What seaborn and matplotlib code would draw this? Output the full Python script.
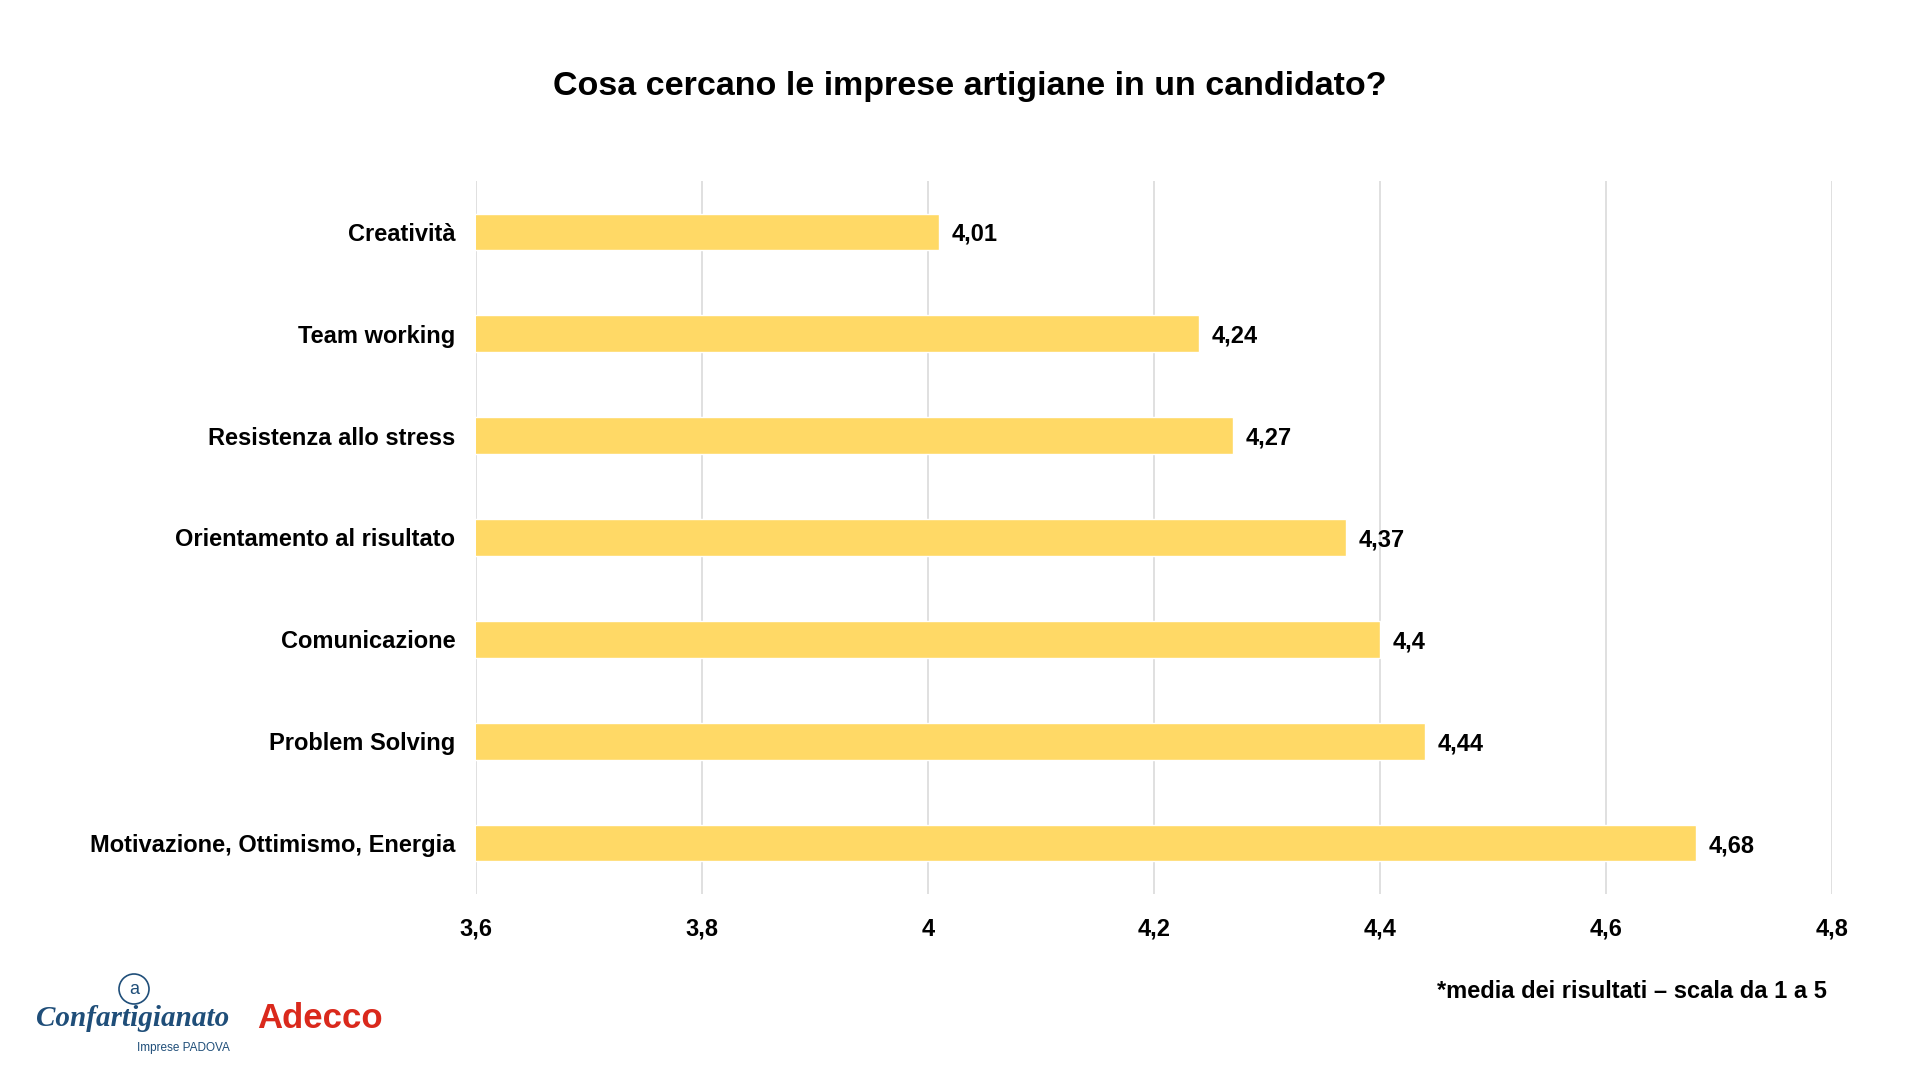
import matplotlib
matplotlib.use("Agg")
import matplotlib.pyplot as plt
import seaborn as sns
import pandas as pd
from matplotlib.patches import Ellipse

# data
categories = [
    "Creatività",
    "Team working",
    "Resistenza allo stress",
    "Orientamento al risultato",
    "Comunicazione",
    "Problem Solving",
    "Motivazione, Ottimismo, Energia",
]
scores = [4.01, 4.24, 4.27, 4.37, 4.40, 4.44, 4.68]
x_ticks = [3.6, 3.8, 4.0, 4.2, 4.4, 4.6, 4.8]

BAR_COLOR = "#FFD966"
GRID_COLOR = "#DDDDDD"
FS = 17


def it_num(v):
    return f"{v:g}".replace(".", ",")


df = pd.DataFrame({"categoria": categories, "media": scores})

sns.set_theme(style="white")
plt.rcParams["font.family"] = ["Liberation Sans", "DejaVu Sans"]
plt.rcParams["text.color"] = "black"
plt.rcParams["xtick.color"] = "black"
plt.rcParams["ytick.color"] = "black"

fig = plt.figure(figsize=(19.2, 10.8), dpi=100)
ax = fig.add_axes([476 / 1920, 1 - 894 / 1080, (1832 - 476) / 1920, (894 - 181) / 1080])

sns.barplot(data=df, x="media", y="categoria", color=BAR_COLOR, width=0.36,
            saturation=1, ax=ax, zorder=3)

ax.set_xlim(3.6, 4.8)
ax.set_ylim(6.5, -0.5)
ax.set_xticks(x_ticks)
ax.set_xticklabels([it_num(t) for t in x_ticks], fontsize=FS, fontweight="bold")
ax.tick_params(axis="y", labelsize=FS, length=0, pad=15)
ax.tick_params(axis="x", length=0, pad=17)
for lab in ax.get_yticklabels():
    lab.set_fontweight("bold")
ax.set_xlabel("")
ax.set_ylabel("")
ax.xaxis.grid(True, color=GRID_COLOR, linewidth=1.3, zorder=0)
for s in ax.spines.values():
    s.set_visible(False)

for i, v in enumerate(scores):
    ax.text(v + 0.011, i, it_num(v), va="center_baseline", ha="left",
            fontsize=FS, fontweight="bold", color="black")

fig.text(970 / 1920, 1 - 87 / 1080, "Cosa cercano le imprese artigiane in un candidato?",
         ha="center", va="center", fontsize=24.5, fontweight="bold")

fig.text(1827 / 1920, 1 - 992 / 1080, "*media dei risultati – scala da 1 a 5",
         ha="right", va="center", fontsize=FS, fontweight="bold")

# logos as text
fig.text(133 / 1920, 1 - 1018 / 1080, "Confartigianato", ha="center", va="center",
         fontsize=21, fontstyle="italic", fontweight="bold",
         family=["Liberation Serif", "DejaVu Serif"], color="#1F4E79")
fig.text(230 / 1920, 1 - 1048 / 1080, "Imprese PADOVA", ha="right", va="center",
         fontsize=8.5, color="#1F4E79")
fig.text(134 / 1920, 1 - 989 / 1080, "a", ha="center", va="center",
         fontsize=13, color="#1F4E79")
fig.patches.append(Ellipse((134 / 1920, 1 - 989 / 1080), 30 / 1920, 30 / 1080,
                           transform=fig.transFigure, fill=False,
                           edgecolor="#1F4E79", linewidth=1.2))
fig.text(320 / 1920, 1 - 1019 / 1080, "Adecco", ha="center", va="center",
         fontsize=25, fontweight="bold", color="#DA291C")

fig.savefig("out.png", dpi=100, facecolor="white")
